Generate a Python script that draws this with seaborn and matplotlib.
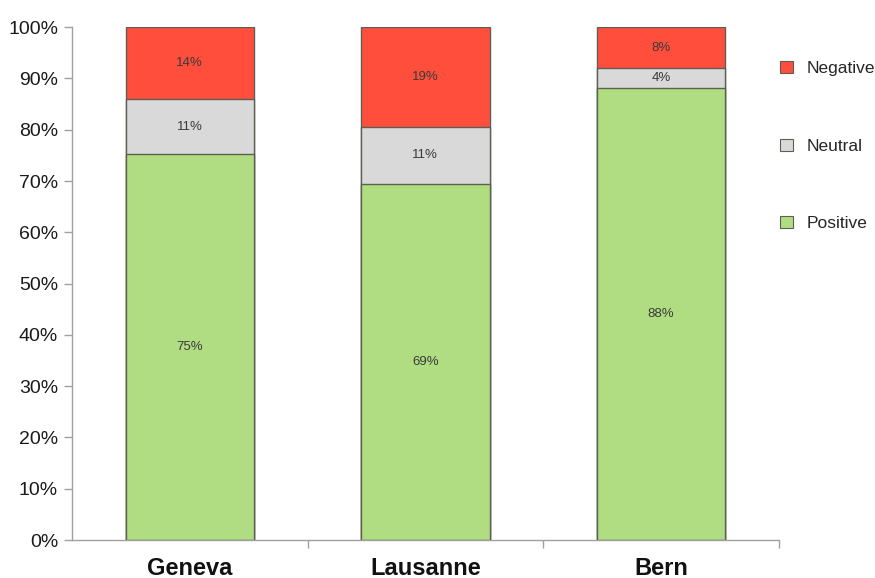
import matplotlib
matplotlib.use("Agg")
import matplotlib.pyplot as plt
from matplotlib.patches import Patch
from matplotlib.ticker import FixedLocator
import numpy as np
import pandas as pd
import seaborn as sns

# Share of opinions per city (percent)
cities = ["Geneva", "Lausanne", "Bern"]
positive = [75.2, 69.4, 88.1]
neutral = [10.8, 11.2, 3.9]
negative = [14.0, 19.4, 8.0]
y_ticks = [0, 10, 20, 30, 40, 50, 60, 70, 80, 90, 100]

sns.set_theme(style="white")
plt.rcParams["font.family"] = ["Liberation Sans", "DejaVu Sans"]

colors = {"Positive": "#B1DD82", "Neutral": "#D9D9D9", "Negative": "#FF4F3C"}
edge = "#5E5E52"

df = pd.DataFrame({"city": cities, "Positive": positive,
                   "Neutral": neutral, "Negative": negative})
df["top_neutral"] = df["Positive"] + df["Neutral"]
df["top_negative"] = df["top_neutral"] + df["Negative"]

fig = plt.figure(figsize=(8.75, 5.78), dpi=100)
ax = fig.add_axes([0.0823, 0.0657, 0.8077, 0.8873])

# Stacked bars drawn as overlapping cumulative heights
for col, name in [("top_negative", "Negative"), ("top_neutral", "Neutral"),
                  ("Positive", "Positive")]:
    sns.barplot(data=df, x="city", y=col, color=colors[name], width=0.545,
                edgecolor=edge, linewidth=1.0, saturation=1, ax=ax, errorbar=None)

# Segment labels
for i in range(len(cities)):
    bottom = 0.0
    for name in ["Positive", "Neutral", "Negative"]:
        v = df.loc[i, name]
        ax.text(i, bottom + v / 2, f"{v:.0f}%", ha="center", va="center",
                fontsize=9.5, color="#3A3A3A")
        bottom += v

ax.set_xlim(-0.5, 2.5)
ax.set_ylim(0, 100)
ax.set_yticks(y_ticks)
ax.set_yticklabels([f"{t}%" for t in y_ticks], fontsize=14, color="#1A1A1A")
ax.set_xlabel("")
ax.set_ylabel("")
ax.set_xticks(range(len(cities)))
ax.set_xticklabels(cities, fontsize=17, fontweight="bold", color="#111111")
ax.xaxis.set_minor_locator(FixedLocator([0.5, 1.5, 2.5]))
ax.tick_params(axis="x", which="major", length=0, pad=12)
ax.tick_params(axis="x", which="minor", length=6, width=1, color="#A0A0A0",
               direction="out", bottom=True)
ax.tick_params(axis="y", length=6, width=1, color="#A0A0A0", direction="out",
               left=True, pad=4)

for s in ["top", "right"]:
    ax.spines[s].set_visible(False)
for s in ["left", "bottom"]:
    ax.spines[s].set_color("#A0A0A0")
    ax.spines[s].set_linewidth(1.0)

handles = [Patch(facecolor=colors[n], edgecolor=edge, linewidth=0.8, label=n)
           for n in ["Negative", "Neutral", "Positive"]]
fig.legend(handles=handles, loc="center left", bbox_to_anchor=(0.878, 0.747),
           frameon=False, fontsize=12.5, handlelength=0.7, handleheight=0.7,
           handletextpad=0.8, labelspacing=3.6, borderpad=0.2)

fig.savefig("out.png", dpi=100, facecolor="white")
